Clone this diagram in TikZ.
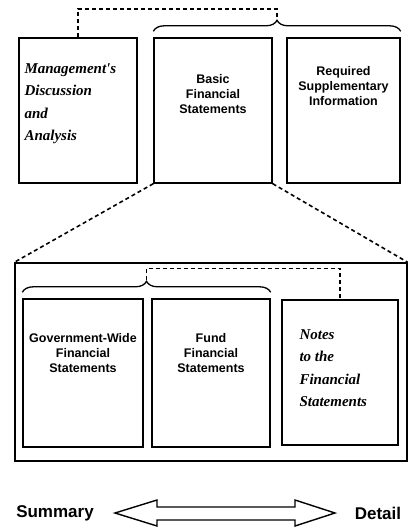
\documentclass[tikz,border=0pt]{standalone}
\usepackage{fontspec}
\usepackage{tikz}
\usetikzlibrary{positioning,calc,decorations.pathreplacing}
\newfontfamily\headfont{Liberation Sans}
\newfontfamily\notefont{Liberation Serif}

\begin{document}
\begin{tikzpicture}[x=1pt, y=-1pt,
  box/.style={draw, line width=1.4pt, inner sep=0pt},
  boldtxt/.style={font=\headfont\bfseries\fontsize{12.5}{15}\selectfont, align=center, inner sep=0pt, anchor=north},
  scripttxt/.style={font=\notefont\bfseries\itshape\fontsize{15}{22.5}\selectfont, align=left, inner sep=0pt, anchor=north west},
  dashline/.style={line width=1.6pt, dash pattern=on 4pt off 3pt},
  bracket/.style={line width=1.3pt, decorate, decoration={brace, amplitude=11pt}}]
\useasboundingbox (0,0) rectangle (409,527);

% top row
\node[box, minimum width=118pt, minimum height=145pt] (mda) at (78,110.5) {};
\node[box, minimum width=118pt, minimum height=145pt] (bfs) at (213,110.5) {};
\node[box, minimum width=113pt, minimum height=145pt] (rsi) at (343.5,110.5) {};
\node[scripttxt] (mdatxt) at ([xshift=6pt, yshift=-26pt]mda.north west) {Management's\\Discussion\\and\\Analysis};
\node[boldtxt] (bfstxt) at ([yshift=-37pt]bfs.north) {Basic\\Financial\\Statements};
\node[boldtxt] (rsitxt) at ([yshift=-29pt]rsi.north) {Required\\Supplementary\\Information};

% brace over basic + rsi
\coordinate (b1s) at ([yshift=6pt]bfs.north west);
\coordinate (b1e) at ([yshift=6pt]rsi.north east);
\draw[bracket] (b1s) -- (b1e);
\coordinate (tip1) at ($(b1s)!0.5!(b1e)+(0,-12)$);
\draw[dashline] (mda.north) -- ++(0,-28) -| (tip1);

% detail of the basic statements
\node[box, minimum width=392pt, minimum height=198pt] (big) at (211,362) {};
\draw[dashline] (bfs.south west) -- (big.north west);
\draw[dashline] (bfs.south east) -- (big.north east);

\node[box, minimum width=120pt, minimum height=148pt] (gov) at (83,373) {};
\node[box, minimum width=118pt, minimum height=148pt] (fund) at (211,373) {};
\node[box, minimum width=116pt, minimum height=145pt] (notes) at (340,372.5) {};
\node[boldtxt] (govtxt) at ([yshift=-35pt]gov.north) {Government-Wide\\Financial\\Statements};
\node[boldtxt] (fundtxt) at ([yshift=-35pt]fund.north) {Fund\\Financial\\Statements};
\node[scripttxt] (notestxt) at ([xshift=18pt, yshift=-30pt]notes.north west) {Notes\\to the\\Financial\\Statements};

% brace over government-wide + fund
\coordinate (b2s) at ([yshift=6pt]gov.north west);
\coordinate (b2e) at ([yshift=6pt]fund.north east);
\draw[bracket] (b2s) -- (b2e);
\coordinate (tip2) at ($(b2s)!0.5!(b2e)+(0,-12)$);
\draw[dashline] (tip2) -- ++(0,-12) -| (notes.north);

% summary -- detail
\node[font=\headfont\bfseries\fontsize{17}{20}\selectfont, inner sep=0pt] (summary) at (55,513) {Summary};
\node[font=\headfont\bfseries\fontsize{17}{20}\selectfont, inner sep=0pt] (detail) at (378,513) {Detail};
\draw[line width=1.4pt, line join=miter] (115,513) -- (157,500) -- (157,507) -- (295,507) -- (295,500) -- (335,513)
  -- (295,526) -- (295,520) -- (157,520) -- (157,526) -- cycle;
\end{tikzpicture}
\end{document}
